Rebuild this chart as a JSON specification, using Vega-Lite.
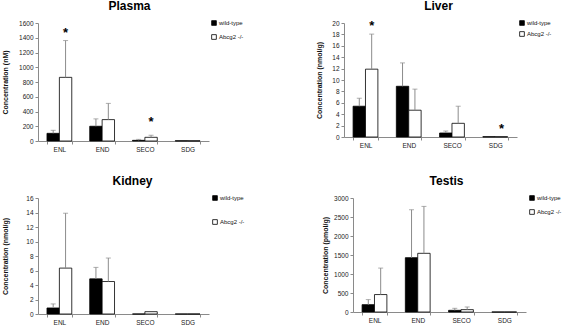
{
  "$schema": "https://vega.github.io/schema/vega-lite/v6.json",
  "background": "white",
  "padding": {"left": 0, "top": 0, "right": 0, "bottom": 0},
  "config": {
    "font": "Liberation Sans",
    "view": {"stroke": null},
    "axis": {"domainColor": "#8a8a8a", "tickColor": "#8a8a8a", "labelColor": "#222222", "labelFontSize": 6.5, "grid": false, "tickSize": 3, "labelPadding": 2, "titleFontSize": 7, "titleFontWeight": "bold", "titleColor": "#111111", "labelOverlap": false, "labelFlush": false},
    "axisY": {"format": "d"},
    "title": {"fontSize": 12, "fontWeight": "bold", "color": "black", "offset": 7, "anchor": "middle"},
    "legend": {"title": null, "orient": "none", "symbolType": "square", "symbolSize": 22, "symbolStrokeColor": "black", "symbolStrokeWidth": 0.8, "labelFontSize": 6, "labelColor": "#111111", "padding": 0, "labelOffset": 2}
  },
  "datasets": {
    "d": [
      {"panel": "Plasma", "compound": "ENL", "genotype": "wild-type", "mean": 104, "upper": 145, "star": null},
      {"panel": "Plasma", "compound": "ENL", "genotype": "Abcg2 -/-", "mean": 863, "upper": 1362, "star": 1500},
      {"panel": "Plasma", "compound": "END", "genotype": "wild-type", "mean": 200, "upper": 300, "star": null},
      {"panel": "Plasma", "compound": "END", "genotype": "Abcg2 -/-", "mean": 290, "upper": 510, "star": null},
      {"panel": "Plasma", "compound": "SECO", "genotype": "wild-type", "mean": 9, "upper": 22, "star": null},
      {"panel": "Plasma", "compound": "SECO", "genotype": "Abcg2 -/-", "mean": 50, "upper": 78, "star": 300},
      {"panel": "Plasma", "compound": "SDG", "genotype": "wild-type", "mean": 3, "upper": null, "star": null},
      {"panel": "Plasma", "compound": "SDG", "genotype": "Abcg2 -/-", "mean": 3, "upper": null, "star": null},
      {"panel": "Liver", "compound": "ENL", "genotype": "wild-type", "mean": 5.4, "upper": 6.8, "star": null},
      {"panel": "Liver", "compound": "ENL", "genotype": "Abcg2 -/-", "mean": 11.9, "upper": 18.05, "star": 20},
      {"panel": "Liver", "compound": "END", "genotype": "wild-type", "mean": 8.9, "upper": 13, "star": null},
      {"panel": "Liver", "compound": "END", "genotype": "Abcg2 -/-", "mean": 4.7, "upper": 8.4, "star": null},
      {"panel": "Liver", "compound": "SECO", "genotype": "wild-type", "mean": 0.7, "upper": 1.05, "star": null},
      {"panel": "Liver", "compound": "SECO", "genotype": "Abcg2 -/-", "mean": 2.4, "upper": 5.4, "star": null},
      {"panel": "Liver", "compound": "SDG", "genotype": "wild-type", "mean": 0.05, "upper": null, "star": null},
      {"panel": "Liver", "compound": "SDG", "genotype": "Abcg2 -/-", "mean": 0.05, "upper": null, "star": 2},
      {"panel": "Kidney", "compound": "ENL", "genotype": "wild-type", "mean": 0.83, "upper": 1.39, "star": null},
      {"panel": "Kidney", "compound": "ENL", "genotype": "Abcg2 -/-", "mean": 6.33, "upper": 13.9, "star": null},
      {"panel": "Kidney", "compound": "END", "genotype": "wild-type", "mean": 4.85, "upper": 6.43, "star": null},
      {"panel": "Kidney", "compound": "END", "genotype": "Abcg2 -/-", "mean": 4.48, "upper": 7.72, "star": null},
      {"panel": "Kidney", "compound": "SECO", "genotype": "wild-type", "mean": 0, "upper": null, "star": null},
      {"panel": "Kidney", "compound": "SECO", "genotype": "Abcg2 -/-", "mean": 0.32, "upper": null, "star": null},
      {"panel": "Kidney", "compound": "SDG", "genotype": "wild-type", "mean": 0, "upper": null, "star": null},
      {"panel": "Kidney", "compound": "SDG", "genotype": "Abcg2 -/-", "mean": 0, "upper": null, "star": null},
      {"panel": "Testis", "compound": "ENL", "genotype": "wild-type", "mean": 194, "upper": 326, "star": null},
      {"panel": "Testis", "compound": "ENL", "genotype": "Abcg2 -/-", "mean": 459, "upper": 1156, "star": null},
      {"panel": "Testis", "compound": "END", "genotype": "wild-type", "mean": 1429, "upper": 2691, "star": null},
      {"panel": "Testis", "compound": "END", "genotype": "Abcg2 -/-", "mean": 1544, "upper": 2779, "star": null},
      {"panel": "Testis", "compound": "SECO", "genotype": "wild-type", "mean": 44, "upper": 97, "star": null},
      {"panel": "Testis", "compound": "SECO", "genotype": "Abcg2 -/-", "mean": 62, "upper": 132, "star": null},
      {"panel": "Testis", "compound": "SDG", "genotype": "wild-type", "mean": 0, "upper": null, "star": null},
      {"panel": "Testis", "compound": "SDG", "genotype": "Abcg2 -/-", "mean": 0, "upper": null, "star": null}
    ]
  },
  "resolve": {"scale": {"fill": "independent"}, "legend": {"fill": "independent"}},
  "spacing": 22,
  "vconcat": [
    {
      "hconcat": [
        {
          "width": 171, "height": 118,
          "title": {"text": "Plasma", "dx": 6},
          "data": {"name": "d"},
          "transform": [{"filter": "datum.panel === 'Plasma'"}],
          "encoding": {
            "x": {"field": "compound", "type": "nominal", "sort": ["ENL", "END", "SECO", "SDG"], "scale": {"paddingInner": 0.42, "paddingOuter": 0.21}, "axis": {"title": null, "labelAngle": 0, "tickBand": "extent"}},
            "xOffset": {"field": "genotype", "sort": ["wild-type", "Abcg2 -/-"]}
          },
          "layer": [
            {"mark": {"type": "bar", "stroke": "black", "strokeWidth": 0.8},
             "encoding": {
               "y": {"field": "mean", "type": "quantitative", "title": "Concentration (nM)", "scale": {"domain": [0, 1600], "nice": false}, "axis": {"values": [0, 200, 400, 600, 800, 1000, 1200, 1400, 1600], "titleX": -30}},
               "fill": {"field": "genotype", "type": "nominal", "sort": ["wild-type", "Abcg2 -/-"], "scale": {"domain": ["wild-type", "Abcg2 -/-"], "range": ["black", "white"]}, "legend": {"legendX": 173, "legendY": -3, "rowPadding": 6}}
             }},
            {"transform": [{"filter": "datum.upper != null"}], "mark": {"type": "rule", "color": "#8c8c8c", "strokeWidth": 1},
             "encoding": {"y": {"field": "mean", "type": "quantitative", "title": "Concentration (nM)", "axis": {"values": [0, 200, 400, 600, 800, 1000, 1200, 1400, 1600], "titleX": -30}}, "y2": {"field": "upper"}}},
            {"transform": [{"filter": "datum.upper != null"}], "mark": {"type": "tick", "color": "#8c8c8c", "size": 5, "thickness": 1, "orient": "horizontal"},
             "encoding": {"y": {"field": "upper", "type": "quantitative", "title": "Concentration (nM)", "axis": {"values": [0, 200, 400, 600, 800, 1000, 1200, 1400, 1600], "titleX": -30}}}},
            {"transform": [{"filter": "datum.star != null"}], "mark": {"type": "text", "text": "*", "fontSize": 13, "fontWeight": "bold", "baseline": "alphabetic", "dy": 7, "color": "black"},
             "encoding": {"y": {"field": "star", "type": "quantitative", "title": "Concentration (nM)", "axis": {"values": [0, 200, 400, 600, 800, 1000, 1200, 1400, 1600], "titleX": -30}}}}
          ]
        },
        {
          "width": 173, "height": 114,
          "title": {"text": "Liver", "dx": 8},
          "data": {"name": "d"},
          "transform": [{"filter": "datum.panel === 'Liver'"}],
          "encoding": {
            "x": {"field": "compound", "type": "nominal", "sort": ["ENL", "END", "SECO", "SDG"], "scale": {"paddingInner": 0.42, "paddingOuter": 0.21}, "axis": {"title": null, "labelAngle": 0, "tickBand": "extent"}},
            "xOffset": {"field": "genotype", "sort": ["wild-type", "Abcg2 -/-"]}
          },
          "layer": [
            {"mark": {"type": "bar", "stroke": "black", "strokeWidth": 0.8},
             "encoding": {
               "y": {"field": "mean", "type": "quantitative", "title": "Concentration (nmol/g)", "scale": {"domain": [0, 20], "nice": false}, "axis": {"values": [0, 2, 4, 6, 8, 10, 12, 14, 16, 18, 20], "titleX": -22}},
               "fill": {"field": "genotype", "type": "nominal", "sort": ["wild-type", "Abcg2 -/-"], "scale": {"domain": ["wild-type", "Abcg2 -/-"], "range": ["black", "white"]}, "legend": {"legendX": 175, "legendY": -3, "rowPadding": 3}}
             }},
            {"transform": [{"filter": "datum.upper != null"}], "mark": {"type": "rule", "color": "#8c8c8c", "strokeWidth": 1},
             "encoding": {"y": {"field": "mean", "type": "quantitative", "title": "Concentration (nmol/g)", "axis": {"values": [0, 2, 4, 6, 8, 10, 12, 14, 16, 18, 20], "titleX": -22}}, "y2": {"field": "upper"}}},
            {"transform": [{"filter": "datum.upper != null"}], "mark": {"type": "tick", "color": "#8c8c8c", "size": 5, "thickness": 1, "orient": "horizontal"},
             "encoding": {"y": {"field": "upper", "type": "quantitative", "title": "Concentration (nmol/g)", "axis": {"values": [0, 2, 4, 6, 8, 10, 12, 14, 16, 18, 20], "titleX": -22}}}},
            {"transform": [{"filter": "datum.star != null"}], "mark": {"type": "text", "text": "*", "fontSize": 13, "fontWeight": "bold", "baseline": "alphabetic", "dy": 7, "color": "black"},
             "encoding": {"y": {"field": "star", "type": "quantitative", "title": "Concentration (nmol/g)", "axis": {"values": [0, 2, 4, 6, 8, 10, 12, 14, 16, 18, 20], "titleX": -22}}}}
          ]
        }
      ],
      "spacing": 70,
      "resolve": {"scale": {"fill": "independent"}, "legend": {"fill": "independent"}}
    },
    {
      "hconcat": [
        {
          "width": 171, "height": 116,
          "title": {"text": "Kidney", "dx": 9},
          "data": {"name": "d"},
          "transform": [{"filter": "datum.panel === 'Kidney'"}],
          "encoding": {
            "x": {"field": "compound", "type": "nominal", "sort": ["ENL", "END", "SECO", "SDG"], "scale": {"paddingInner": 0.42, "paddingOuter": 0.21}, "axis": {"title": null, "labelAngle": 0, "tickBand": "extent"}},
            "xOffset": {"field": "genotype", "sort": ["wild-type", "Abcg2 -/-"]}
          },
          "layer": [
            {"mark": {"type": "bar", "stroke": "black", "strokeWidth": 0.8},
             "encoding": {
               "y": {"field": "mean", "type": "quantitative", "title": "Concentration (nmol/g)", "scale": {"domain": [0, 16], "nice": false}, "axis": {"values": [0, 2, 4, 6, 8, 10, 12, 14, 16], "titleX": -30}},
               "fill": {"field": "genotype", "type": "nominal", "sort": ["wild-type", "Abcg2 -/-"], "scale": {"domain": ["wild-type", "Abcg2 -/-"], "range": ["black", "white"]}, "legend": {"legendX": 174, "legendY": -3, "rowPadding": 16}}
             }},
            {"transform": [{"filter": "datum.upper != null"}], "mark": {"type": "rule", "color": "#8c8c8c", "strokeWidth": 1},
             "encoding": {"y": {"field": "mean", "type": "quantitative", "title": "Concentration (nmol/g)", "axis": {"values": [0, 2, 4, 6, 8, 10, 12, 14, 16], "titleX": -30}}, "y2": {"field": "upper"}}},
            {"transform": [{"filter": "datum.upper != null"}], "mark": {"type": "tick", "color": "#8c8c8c", "size": 5, "thickness": 1, "orient": "horizontal"},
             "encoding": {"y": {"field": "upper", "type": "quantitative", "title": "Concentration (nmol/g)", "axis": {"values": [0, 2, 4, 6, 8, 10, 12, 14, 16], "titleX": -30}}}}
          ]
        },
        {
          "width": 173, "height": 114,
          "title": {"text": "Testis", "dx": 7},
          "data": {"name": "d"},
          "transform": [{"filter": "datum.panel === 'Testis'"}],
          "encoding": {
            "x": {"field": "compound", "type": "nominal", "sort": ["ENL", "END", "SECO", "SDG"], "scale": {"paddingInner": 0.42, "paddingOuter": 0.21}, "axis": {"title": null, "labelAngle": 0, "tickBand": "extent"}},
            "xOffset": {"field": "genotype", "sort": ["wild-type", "Abcg2 -/-"]}
          },
          "layer": [
            {"mark": {"type": "bar", "stroke": "black", "strokeWidth": 0.8},
             "encoding": {
               "y": {"field": "mean", "type": "quantitative", "title": "Concentration (pmol/g)", "scale": {"domain": [0, 3000], "nice": false}, "axis": {"values": [0, 500, 1000, 1500, 2000, 2500, 3000], "titleX": -25}},
               "fill": {"field": "genotype", "type": "nominal", "sort": ["wild-type", "Abcg2 -/-"], "scale": {"domain": ["wild-type", "Abcg2 -/-"], "range": ["black", "white"]}, "legend": {"legendX": 176, "legendY": -3, "rowPadding": 6}}
             }},
            {"transform": [{"filter": "datum.upper != null"}], "mark": {"type": "rule", "color": "#8c8c8c", "strokeWidth": 1},
             "encoding": {"y": {"field": "mean", "type": "quantitative", "title": "Concentration (pmol/g)", "axis": {"values": [0, 500, 1000, 1500, 2000, 2500, 3000], "titleX": -25}}, "y2": {"field": "upper"}}},
            {"transform": [{"filter": "datum.upper != null"}], "mark": {"type": "tick", "color": "#8c8c8c", "size": 5, "thickness": 1, "orient": "horizontal"},
             "encoding": {"y": {"field": "upper", "type": "quantitative", "title": "Concentration (pmol/g)", "axis": {"values": [0, 500, 1000, 1500, 2000, 2500, 3000], "titleX": -25}}}}
          ]
        }
      ],
      "spacing": 75,
      "resolve": {"scale": {"fill": "independent"}, "legend": {"fill": "independent"}}
    }
  ]
}
